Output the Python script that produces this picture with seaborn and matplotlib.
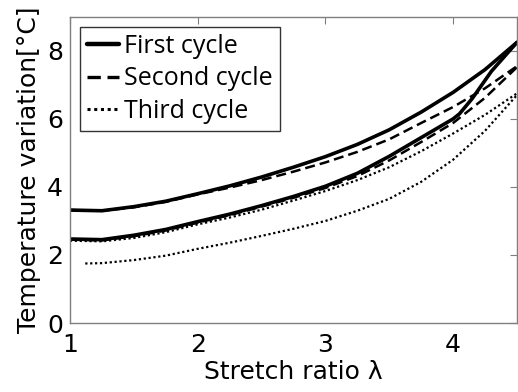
import matplotlib
matplotlib.use("Agg")
import matplotlib.pyplot as plt
import seaborn as sns
import pandas as pd
from matplotlib.lines import Line2D
from matplotlib import font_manager as fm

# Data
x_load = [1.0, 1.25, 1.5, 1.75, 2.0, 2.25, 2.5, 2.75, 3.0, 3.25, 3.5, 3.75, 4.0, 4.25, 4.5]
first_upper = [3.32, 3.30, 3.42, 3.58, 3.80, 4.03, 4.29, 4.58, 4.89, 5.25, 5.68, 6.20, 6.78, 7.45, 8.25]

x_first_lower = [1.0, 1.25, 1.5, 1.75, 2.0, 2.25, 2.5, 2.75, 3.0, 3.25, 3.5, 3.75, 4.0, 4.05, 4.15, 4.3, 4.5]
first_lower = [2.47, 2.45, 2.58, 2.75, 2.98, 3.20, 3.45, 3.72, 4.02, 4.40, 4.90, 5.45, 6.00, 6.15, 6.60, 7.40, 8.25]

second_upper = [3.32, 3.30, 3.40, 3.56, 3.78, 3.98, 4.20, 4.45, 4.72, 5.03, 5.40, 5.88, 6.35, 6.90, 7.55]
second_lower = [2.45, 2.43, 2.55, 2.72, 2.95, 3.17, 3.42, 3.68, 3.97, 4.32, 4.78, 5.32, 5.88, 6.62, 7.52]

third_upper = [2.42, 2.40, 2.50, 2.67, 2.90, 3.10, 3.33, 3.60, 3.88, 4.20, 4.58, 5.05, 5.57, 6.12, 6.75]
x_third_lower = [1.12, 1.25, 1.5, 1.75, 2.0, 2.25, 2.5, 2.75, 3.0, 3.25, 3.5, 3.75, 4.0, 4.25, 4.5]
third_lower = [1.75, 1.76, 1.85, 1.98, 2.18, 2.36, 2.56, 2.77, 3.00, 3.30, 3.65, 4.15, 4.80, 5.65, 6.70]

cycle_labels = ["First cycle", "Second cycle", "Third cycle"]
x_ticks = [1, 2, 3, 4]
y_ticks = [0, 2, 4, 6, 8]

sns.set_style("white")
plt.rcParams["font.family"] = ["DejaVu Sans"]
plt.rcParams["text.color"] = "black"
plt.rcParams["axes.labelcolor"] = "black"

main_fp = fm.FontProperties(family="DejaVu Sans", size=18)
leg_fp = fm.FontProperties(family="Open Sans", size=18)

fig = plt.figure(figsize=(5.18, 3.92), dpi=100)
ax = fig.add_axes([0.135, 0.176, 0.863, 0.781])

styles = {
    "First cycle": dict(ls="-", lw=2.6),
    "Second cycle": dict(ls=(0, (4, 2)), lw=1.8),
    "Third cycle": dict(ls=(0, (1, 1.2)), lw=1.6),
}

curves = [
    ("First cycle", x_load, first_upper),
    ("First cycle", x_first_lower, first_lower),
    ("Second cycle", x_load, second_upper),
    ("Second cycle", x_load, second_lower),
    ("Third cycle", x_load, third_upper),
    ("Third cycle", x_third_lower, third_lower),
]

for name, xs, ys in curves:
    df = pd.DataFrame({"x": xs, "y": ys})
    st = styles[name]
    sns.lineplot(data=df, x="x", y="y", ax=ax, color="black", sort=False,
                 linestyle=st["ls"], linewidth=st["lw"], legend=False)

ax.set_xlim(1, 4.5)
ax.set_ylim(0, 9)
ax.set_xticks(x_ticks)
ax.set_yticks(y_ticks)
ax.tick_params(direction="in", length=5, color="#7f7f7f", labelcolor="black",
               top=True, right=True)
ax.tick_params(axis="x", pad=7)
ax.tick_params(axis="y", pad=5)
for lbl in ax.get_xticklabels() + ax.get_yticklabels():
    lbl.set_fontproperties(main_fp)
for s in ax.spines.values():
    s.set_color("#7f7f7f")
    s.set_linewidth(1.0)

ax.set_xlabel("Stretch ratio λ", fontproperties=main_fp, labelpad=2, color="black")
ax.set_ylabel("Temperature variation[°C]", fontproperties=main_fp, labelpad=4, color="black")

handles = [Line2D([], [], color="black", linestyle=styles[n]["ls"],
                  linewidth=styles[n]["lw"] + 0.6) for n in cycle_labels]
leg = ax.legend(handles, cycle_labels, loc="upper left", bbox_to_anchor=(0.022, 0.967),
                prop=leg_fp, frameon=True, fancybox=False,
                handlelength=1.3, handletextpad=0.2, labelspacing=0.3,
                borderpad=0.28, borderaxespad=0.0)
leg.get_frame().set_edgecolor("black")
leg.get_frame().set_linewidth(1.0)
for t in leg.get_texts():
    t.set_color("black")

fig.savefig("out.png", dpi=100)
